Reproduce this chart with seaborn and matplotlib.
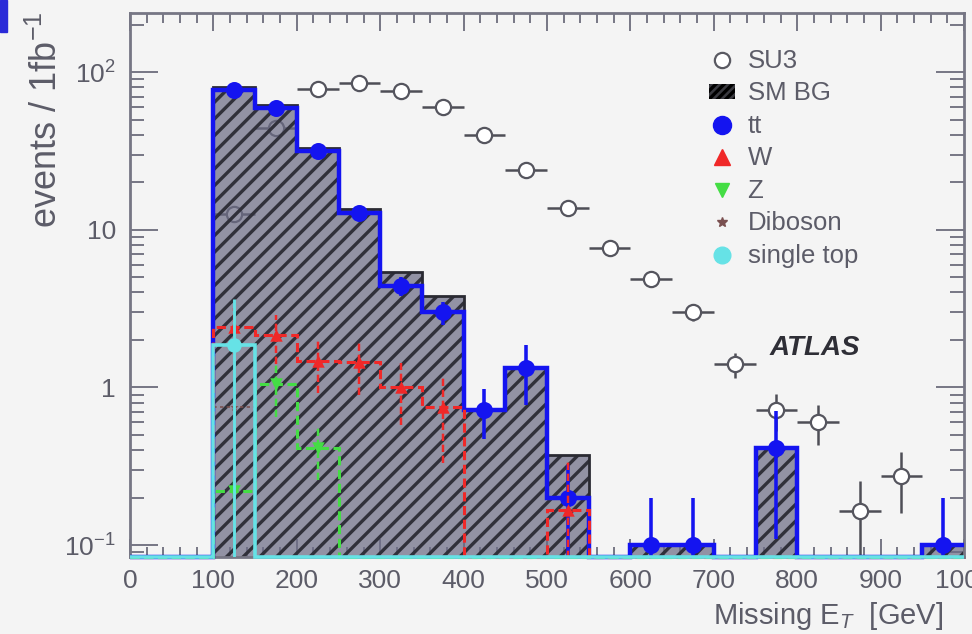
import numpy as np
import pandas as pd
import matplotlib
matplotlib.use("Agg")
import matplotlib.pyplot as plt
from matplotlib.lines import Line2D
from matplotlib.patches import Patch, Rectangle
from matplotlib.ticker import MultipleLocator, LogLocator, NullFormatter, FixedLocator
import seaborn as sns

# ---- data: events per 1 fb^-1 in 50 GeV bins of missing E_T (0-1000 GeV) ----
bin_edges = np.arange(0, 1001, 50)
bin_centers = 0.5 * (bin_edges[:-1] + bin_edges[1:])

su3 = [0, 0, 12.6, 44, 78, 85, 76, 60, 40, 24, 13.8, 7.7, 4.9, 3.0, 1.4, 0.72, 0.6, 0.165, 0.275, 0]
su3_err = [0, 0, 0.8, 1.5, 1.9, 2.0, 1.9, 1.7, 1.4, 1.1, 0.82, 0.6, 0.48, 0.38, 0.26, 0.19, 0.17, 0.09, 0.115, 0]
sm_bg = [0, 0, 80, 62, 33, 13.5, 5.4, 3.8, 0.72, 1.33, 0.37, 0, 0.1, 0.1, 0, 0.41, 0, 0, 0, 0.1]
ttbar = [0, 0, 77, 59, 31.5, 12.8, 4.4, 3.0, 0.72, 1.32, 0.2, 0, 0.1, 0.1, 0, 0.41, 0, 0, 0, 0.1]
ttbar_err = [0, 0, 2.5, 2.2, 1.6, 1.0, 0.6, 0.5, 0.25, 0.55, 0.12, 0, 0.1, 0.1, 0, 0.3, 0, 0, 0, 0.1]
wjets = [0, 0, 2.4, 2.15, 1.47, 1.45, 1.0, 0.75, 0, 0, 0.167, 0, 0, 0, 0, 0, 0, 0, 0, 0]
wjets_err = [0, 0, 0.8, 0.75, 0.55, 0.55, 0.42, 0.42, 0, 0, 0.17, 0, 0, 0, 0, 0, 0, 0, 0, 0]
zjets = [0, 0, 0.22, 1.05, 0.41, 0, 0, 0, 0, 0, 0, 0, 0, 0, 0, 0, 0, 0, 0, 0]
zjets_err = [0, 0, 0.05, 0.4, 0.15, 0, 0, 0, 0, 0, 0, 0, 0, 0, 0, 0, 0, 0, 0, 0]
diboson = [0, 0, 0.75, 0, 0, 0, 0, 0, 0, 0, 0, 0, 0, 0, 0, 0, 0, 0, 0, 0]
diboson_err = [0, 0, 0.25, 0, 0, 0, 0, 0, 0, 0, 0, 0, 0, 0, 0, 0, 0, 0, 0, 0]
single_top = [0, 0, 1.85, 0, 0, 0, 0, 0, 0, 0, 0, 0, 0, 0, 0, 0, 0, 0, 0, 0]
single_top_err = [0, 0, 1.8, 0, 0, 0, 0, 0, 0, 0, 0, 0, 0, 0, 0, 0, 0, 0, 0, 0]

x_ticks = [0, 100, 200, 300, 400, 500, 600, 700, 800, 900, 1000]
x_tick_labels = ["0", "100", "200", "300", "400", "500", "600", "700", "800", "900", "1000"]
y_ticks = [0.1, 1, 10, 100]
y_tick_labels = [r"$10^{-1}$", "1", "10", r"$10^{2}$"]

# ---- style ----
sns.set_theme(style="ticks")
plt.rcParams["font.family"] = ["Liberation Sans", "DejaVu Sans"]
plt.rcParams["mathtext.fontset"] = "custom"
plt.rcParams["mathtext.rm"] = "Liberation Sans"
plt.rcParams["mathtext.it"] = "Liberation Sans:italic"
plt.rcParams["mathtext.bf"] = "Liberation Sans:bold"
plt.rcParams["hatch.linewidth"] = 2.4

BG = "#f4f4f4"
AXC = "#767684"
TXT = "#5c5c68"
BLUE = "#1414f0"
RED = "#f02828"
GREEN = "#44dd44"
CYAN = "#66e2e6"
DIB = "#7a5050"

Y_MIN, Y_MAX = 0.084, 237

fig = plt.figure(figsize=(9.72, 6.34), dpi=100, facecolor=BG)
ax = fig.add_axes([130 / 972, 1 - 557 / 634, 834 / 972, 544 / 634])
ax.set_facecolor(BG)
ax.set_yscale("log")
ax.set_xlim(0, 1000)
ax.set_ylim(Y_MIN, Y_MAX)


def frame(values, errors, name):
    df = pd.DataFrame({"x": bin_centers, "y": values, "err": errors, "sample": name})
    return df[df["y"] > 0]


def floor(values):
    return np.maximum(np.asarray(values, dtype=float), Y_MIN)


# signal points (drawn beneath the background hatch)
su3_df = frame(su3, su3_err, "SU3")
ax.errorbar(su3_df["x"], su3_df["y"], yerr=su3_df["err"], xerr=25, fmt="none",
            ecolor="#4e4e56", elinewidth=1.8, capsize=0, zorder=1)
sns.scatterplot(data=su3_df, x="x", y="y", ax=ax, marker="o", s=120,
                facecolor="white", edgecolor="#55555e", linewidth=1.6, zorder=1.5,
                legend=False)

# total SM background, hatched
ax.stairs(floor(sm_bg), bin_edges, baseline=Y_MIN, fill=True,
          facecolor=(108 / 255, 108 / 255, 134 / 255, 0.72), edgecolor="#30303a",
          hatch="//", linewidth=0, zorder=2)
ax.stairs(floor(sm_bg), bin_edges, baseline=Y_MIN, fill=False,
          edgecolor="#2a2a32", linewidth=2.0, zorder=2.2)

# individual background components
components = [
    (ttbar, ttbar_err, BLUE, "-", "o", 150, 3.2),
    (wjets, wjets_err, RED, (0, (3, 1.5)), "^", 80, 2.2),
    (zjets, zjets_err, GREEN, (0, (3, 1.5)), "v", 80, 2.2),
    (diboson, diboson_err, DIB, (0, (2, 2)), "*", 40, 1.2),
    (single_top, single_top_err, CYAN, "-", "o", 110, 2.6),
]
for i, (vals, errs, col, ls, mk, size, lw) in enumerate(components):
    z = 3 + i * 0.1
    ax.stairs(floor(vals), bin_edges, baseline=None, color=col, linestyle=ls,
              linewidth=lw, zorder=z, clip_on=False)
    df = frame(vals, errs, str(i))
    eb = ax.errorbar(df["x"], df["y"], yerr=df["err"], fmt="none", ecolor=col,
                     elinewidth=lw * 0.8, capsize=0, zorder=z)
    if ls != "-":
        eb[2][0].set_linestyle(ls)
    sns.scatterplot(data=df, x="x", y="y", ax=ax, marker=mk, s=size, color=col,
                    edgecolor=col, linewidth=0, zorder=z + 0.05, legend=False)

# ---- axes, ticks ----
ax.xaxis.set_major_locator(FixedLocator(x_ticks))
ax.set_xticklabels(x_tick_labels)
ax.xaxis.set_minor_locator(MultipleLocator(20))
ax.yaxis.set_major_locator(FixedLocator(y_ticks))
ax.set_yticklabels(y_tick_labels)
ax.yaxis.set_minor_locator(LogLocator(base=10, subs=np.arange(2, 10)))
ax.yaxis.set_minor_formatter(NullFormatter())
ax.tick_params(which="both", direction="in", top=True, right=True, color=AXC,
               labelcolor=TXT, labelsize=19, width=1.4)
ax.tick_params(axis="x", which="major", length=13, pad=9)
ax.tick_params(axis="x", which="minor", length=7)
ax.tick_params(axis="y", which="major", length=20, pad=10)
ax.tick_params(axis="y", which="minor", length=10)
for sp in ax.spines.values():
    sp.set_color(AXC)
    sp.set_linewidth(2.0)
ax.set_xlabel("")
ax.set_ylabel("")

fig.text(47 / 972, 1 - 11 / 634, r"events / 1fb$^{-1}$", rotation=90, ha="center",
         va="top", fontsize=26, color=TXT)
fig.text(713 / 972, 1 - 624 / 634, r"Missing E$_{T}$  [GeV]", ha="left",
         va="baseline", fontsize=21, color=TXT)
ax.text(0.767, 0.384, "ATLAS", transform=ax.transAxes, fontsize=20,
        fontweight="bold", fontstyle="italic", color="#2e2e36", va="center")

# ---- legend ----
handles = [
    Line2D([], [], ls="none", marker="o", ms=11, mfc="white", mec="#5a5a62", mew=1.6),
    Patch(facecolor="#3a3a40", edgecolor="black", hatch="////", linewidth=0),
    Line2D([], [], ls="none", marker="o", ms=13, color=BLUE),
    Line2D([], [], ls="none", marker="^", ms=11, color=RED),
    Line2D([], [], ls="none", marker="v", ms=10, color=GREEN),
    Line2D([], [], ls="none", marker="*", ms=7, color=DIB),
    Line2D([], [], ls="none", marker="o", ms=12, color=CYAN),
]
labels = ["SU3", "SM BG", "tt", "W", "Z", "Diboson", "single top"]
leg = ax.legend(handles, labels, loc="upper left",
                bbox_to_anchor=(709 / 972, 1 - 49 / 634),
                bbox_transform=fig.transFigure, frameon=False, fontsize=18.5,
                handlelength=1.0, handleheight=0.5, handletextpad=0.5,
                labelspacing=0.33, borderpad=0, borderaxespad=0)
for t in leg.get_texts():
    t.set_color(TXT)

# slide edge marker in the corner
fig.patches.append(Rectangle((0, 1 - 32 / 634), 7 / 972, 32 / 634,
                             transform=fig.transFigure, color="#2a2ad8",
                             zorder=5))

fig.savefig("out.png", dpi=100, facecolor=BG)
